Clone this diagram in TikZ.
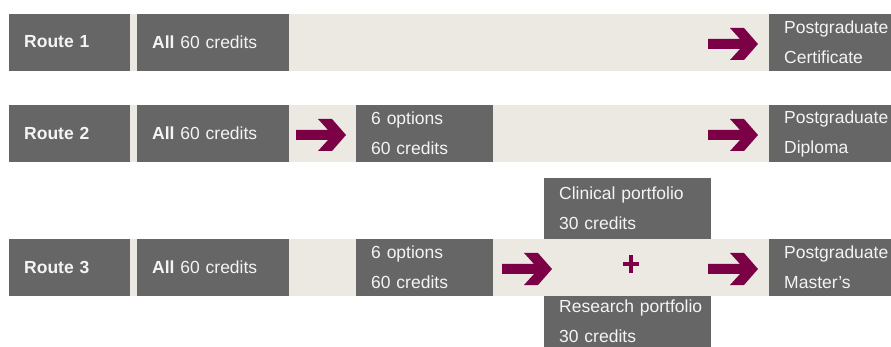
\documentclass[tikz,border=0pt]{standalone}
\usepackage{fontspec}
\setmainfont{Liberation Sans}
\definecolor{boxgray}{HTML}{666666}
\definecolor{bandbeige}{HTML}{ECE9E3}
\definecolor{plum}{HTML}{7B0046}
\definecolor{txt}{HTML}{F4F4F4}
\newcommand{\up}[1]{\raisebox{1.5pt}{#1}}
\tikzset{
  band/.style={fill=bandbeige, draw=none, anchor=north west, inner sep=0pt, minimum height=57pt},
  gbox/.style={fill=boxgray, draw=none, anchor=north west, inner ysep=0pt, inner xsep=15pt,
    minimum height=57pt, text=txt, align=left, font=\fontsize{17.5}{30}\selectfont},
  pics/bigarrow/.style={code={
    \fill[plum] (0,-5) -- (32,-5) -- (22,-16) -- (36,-16) -- (50,0) -- (36,16) -- (22,16) -- (32,5) -- (0,5) -- cycle;
  }},
}
\begin{document}
\begin{tikzpicture}[x=1pt,y=-1pt]
\useasboundingbox (0,0) rectangle (891,347);
% bands
\node[band, minimum width=882pt] (band1) at (9,14) {};
\node[band, minimum width=882pt] (band2) at (9,105) {};
\node[band, minimum width=882pt] (band3) at (9,239) {};
% route 1
\node[gbox, text width=91pt] (r1) at (9,14) {\up{\textbf{Route 1}}};
\node[gbox, text width=122pt] (a1) at (137,14) {\up{\textbf{All} 60 credits}};
\node[gbox, text width=92pt] (p1) at (769,14) {\up{Postgraduate}\\\up{Certificate}};
\pic at (708,44) {bigarrow};
% route 2
\node[gbox, text width=91pt] (r2) at (9,105) {\up{\textbf{Route 2}}};
\node[gbox, text width=122pt] (a2) at (137,105) {\up{\textbf{All} 60 credits}};
\node[gbox, text width=107pt] (o2) at (356,105) {\up{6 options}\\\up{60 credits}};
\node[gbox, text width=92pt] (p2) at (769,105) {\up{Postgraduate}\\\up{Diploma}};
\pic at (296,135) {bigarrow};
\pic at (708,135) {bigarrow};
% route 3
\node[gbox, text width=91pt] (r3) at (9,239) {\up{\textbf{Route 3}}};
\node[gbox, text width=122pt] (a3) at (137,239) {\up{\textbf{All} 60 credits}};
\node[gbox, text width=107pt] (o3) at (356,239) {\up{6 options}\\\up{60 credits}};
\node[gbox, text width=137pt, minimum height=61pt] (clin) at (544,178) {\up{Clinical portfolio}\\\up{30 credits}};
\node[gbox, text width=137pt, minimum height=51pt] (res) at (544,296) {\up{\mbox{Research portfolio}}\\\up{30 credits}};
\node[gbox, text width=92pt] (p3) at (769,239) {\up{Postgraduate}\\\up{Master’s}};
\pic at (502,269) {bigarrow};
\pic at (708,269) {bigarrow};
\fill[plum] (623,262) rectangle (639,266.5);
\fill[plum] (628.8,255) rectangle (633.2,273);
\node[inner sep=0pt] (plus) at (631,264) {};
\end{tikzpicture}
\end{document}
